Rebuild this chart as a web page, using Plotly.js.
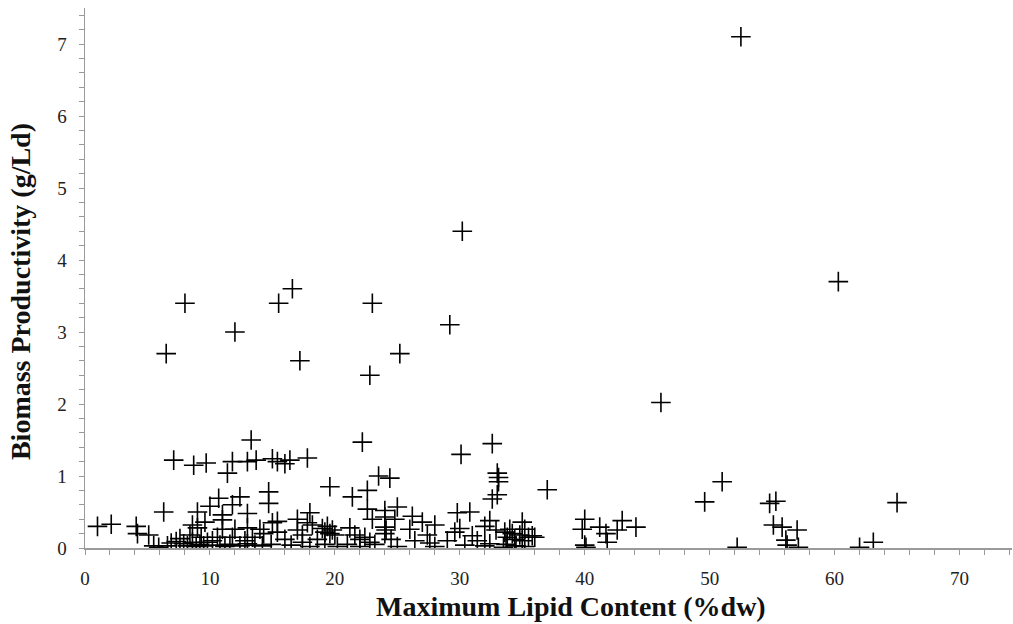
<!DOCTYPE html>
<html>
<head>
<meta charset="utf-8">
<script src="https://cdn.plot.ly/plotly-3.0.1.min.js"></script>
<style>
html,body{margin:0;padding:0;background:#fff;}
#chart{width:1013px;height:624px;}
</style>
</head>
<body>
<div id="chart"></div>
<script>
// Maximum lipid content (%dw)
const lipidContent = [
52.5,30.2,60.3,16.6,8.0,15.5,23.0,29.2,12.0,6.5,25.2,17.2,22.8,46.1,13.3,22.2,32.6,30.1,
7.1,8.7,9.7,11.4,11.8,13.0,13.7,15.0,15.4,16.0,16.4,17.8,23.5,24.4,19.6,22.6,21.4,
33.0,33.1,33.1,33.0,32.6,37.0,51.0,49.6,54.8,55.3,65.0,
6.3,10.7,10.0,11.8,12.4,13.0,14.7,14.7,9.0,22.6,25.0,24.0,23.0,24.0,24.8,26.2,27.0,28.0,
29.8,30.8,18.0,17.0,32.4,32.0,32.9,31.0,35.0,
1.0,2.1,4.1,4.2,5.1,5.5,5.9,6.6,6.9,7.3,7.6,7.9,8.2,8.6,8.9,9.2,9.5,9.8,8.6,9.0,9.6,8.4,9.3,
11.0,11.0,11.0,12.0,13.0,14.0,14.3,15.0,10.6,11.8,13.4,10.8,11.2,11.6,12.4,13.0,13.6,14.2,14.9,
10.2,12.8,15.4,15.4,16.0,16.5,17.0,17.4,17.8,18.2,17.4,18.0,18.6,19.0,19.2,19.4,19.6,19.8,20.0,
19.2,20.2,21.2,21.6,22.0,22.4,22.8,21.0,22.0,23.2,24.0,24.1,24.0,24.5,25.0,26.0,26.4,27.4,27.6,
28.0,29.0,29.6,30.0,30.4,31.4,32.0,32.4,33.6,33.8,33.7,34.2,34.4,34.5,34.8,35.0,35.2,35.5,35.8,
34.0,35.2,33.5,36.0,40.0,39.8,40.0,40.1,41.2,41.7,41.8,42.6,43.0,44.1,52.2,55.1,55.8,57.0,56.1,
56.2,57.1,62.0,63.1
];
// Biomass productivity (g/Ld)
const biomassProductivity = [
7.1,4.4,3.7,3.6,3.4,3.4,3.4,3.1,3.0,2.7,2.7,2.6,2.4,2.02,1.5,1.47,1.45,1.3,
1.22,1.15,1.18,1.04,1.2,1.2,1.22,1.24,1.2,1.17,1.22,1.25,1.0,0.97,0.85,0.8,0.71,
1.04,0.98,0.92,0.74,0.68,0.81,0.92,0.64,0.62,0.65,0.63,
0.5,0.69,0.58,0.6,0.71,0.48,0.78,0.62,0.5,0.54,0.57,0.52,0.4,0.43,0.4,0.44,0.36,0.32,
0.49,0.5,0.49,0.4,0.38,0.3,0.25,0.17,0.36,
0.3,0.33,0.3,0.2,0.18,0.03,0.01,0.03,0.07,0.09,0.13,0.06,0.03,0.08,0.02,0.05,0.03,0.08,0.32,0.28,0.36,0.18,0.15,
0.46,0.39,0.26,0.26,0.28,0.26,0.2,0.35,0.15,0.15,0.15,0.04,0.02,0.05,0.03,0.06,0.04,0.03,0.05,
0.1,0.1,0.37,0.22,0.12,0.04,0.25,0.18,0.35,0.32,0.08,0.02,0.12,0.27,0.22,0.3,0.2,0.25,0.18,
0.05,0.02,0.28,0.18,0.12,0.15,0.08,0.05,0.02,0.05,0.29,0.25,0.2,0.12,0.02,0.26,0.1,0.18,0.07,
0.02,0.1,0.22,0.27,0.04,0.1,0.03,0.06,0.22,0.15,0.05,0.2,0.12,0.03,0.18,0.1,0.02,0.15,0.17,
0.26,0.26,0.01,0.15,0.4,0.26,0.04,0.01,0.29,0.2,0.08,0.25,0.38,0.29,0.01,0.32,0.29,0.25,0.11,
0.04,0.01,0.01,0.08
];
const xTicks = [0,10,20,30,40,50,60,70];
const yTicks = [0,1,2,3,4,5,6,7];
const xTitle = 'Maximum Lipid Content (%dw)';
const yTitle = 'Biomass Productivity (g/Ld)';

const axisColor = '#9a9a9a';
const serif = 'Liberation Serif, Times New Roman, serif';

const trace = {
  type: 'scatter',
  mode: 'markers',
  x: lipidContent,
  y: biomassProductivity,
  marker: {
    symbol: 'cross-thin-open',
    size: 14,
    color: '#000',
    line: {color: '#000', width: 1.6}
  },
  hoverinfo: 'x+y'
};

const titleFont = {family: serif, size: 28, color: '#111'};

const layout = {
  width: 1013,
  height: 624,
  paper_bgcolor: '#fff',
  plot_bgcolor: '#fff',
  showlegend: false,
  margin: {l: 85, r: 1, t: 8, b: 76},
  xaxis: {
    range: [0, 74.2],
    tickvals: xTicks,
    ticktext: xTicks.map(String),
    ticks: 'outside',
    ticklen: 5,
    tickwidth: 1,
    tickcolor: axisColor,
    ticklabelstandoff: 8,
    minor: {dtick: 2, tick0: 0, ticks: 'outside', ticklen: 5, tickcolor: axisColor, showgrid: false},
    showline: true,
    linecolor: axisColor,
    linewidth: 1.5,
    showgrid: false,
    zeroline: false,
    tickfont: {family: serif, size: 19, color: '#222'}
  },
  yaxis: {
    range: [0, 7.5],
    tickvals: yTicks,
    ticktext: yTicks.map(String),
    ticks: 'outside',
    ticklen: 5,
    tickwidth: 1,
    tickcolor: axisColor,
    ticklabelstandoff: 8,
    minor: {dtick: 0.2, tick0: 0, ticks: 'outside', ticklen: 5, tickcolor: axisColor, showgrid: false},
    showline: true,
    linecolor: axisColor,
    linewidth: 1.5,
    showgrid: false,
    zeroline: false,
    tickfont: {family: serif, size: 19, color: '#222'}
  },
  annotations: [
    {text: '<b>' + xTitle + '</b>', xref: 'paper', yref: 'paper', x: 0.524, y: -0.109,
     xanchor: 'center', yanchor: 'middle', showarrow: false, font: titleFont},
    {text: '<b>' + yTitle + '</b>', xref: 'paper', yref: 'paper', x: -0.0701, y: 0.474,
     xanchor: 'center', yanchor: 'middle', textangle: -90, showarrow: false, font: titleFont}
  ]
};

Plotly.newPlot('chart', [trace], layout, {displayModeBar: false, staticPlot: true});
</script>
</body>
</html>
